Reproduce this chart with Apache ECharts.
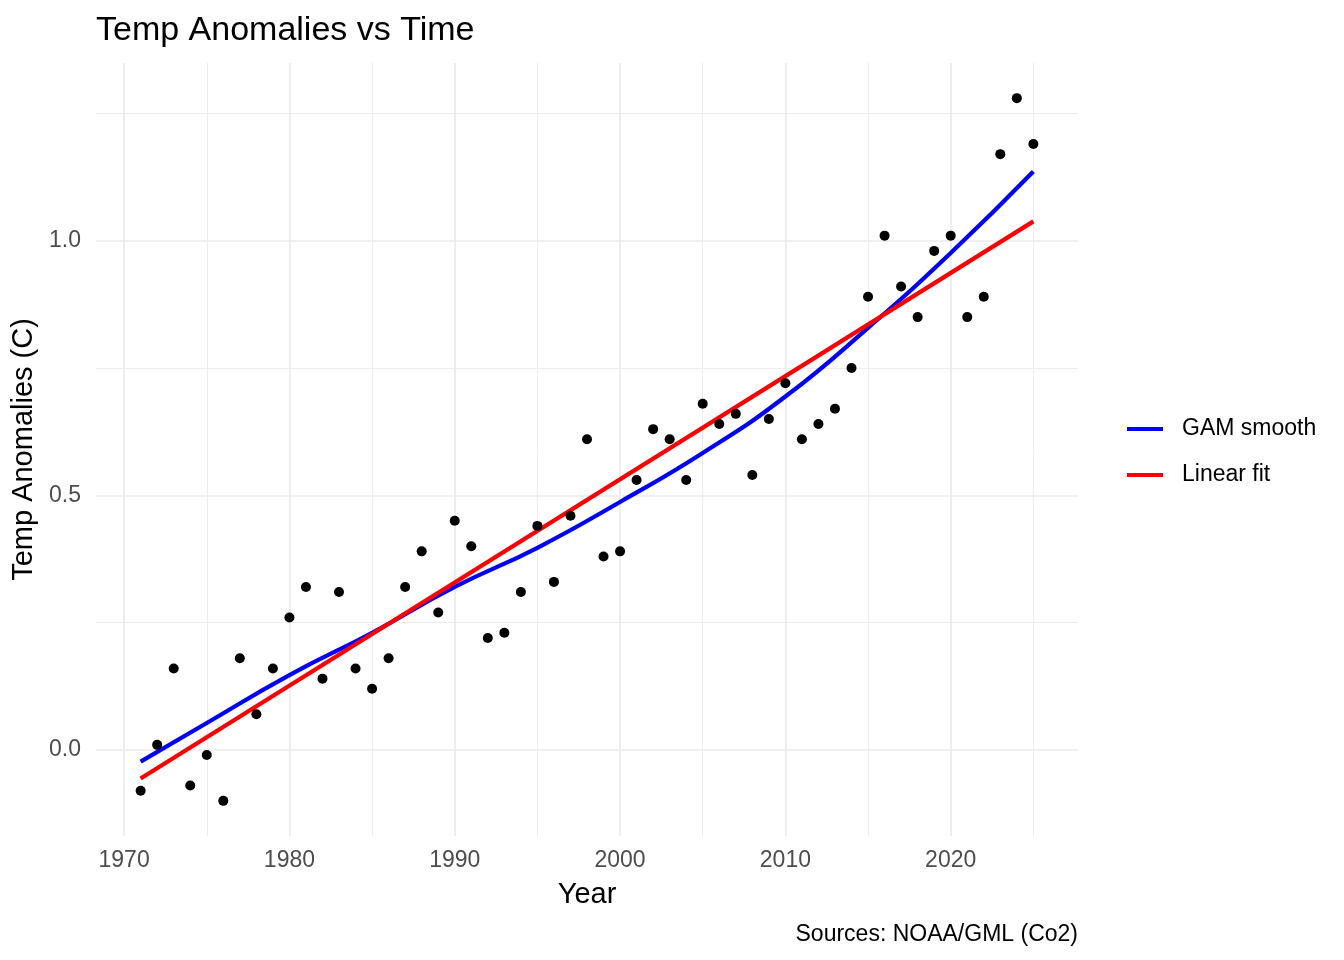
<!DOCTYPE html>
<html>
<head>
<meta charset="utf-8">
<script src="https://cdn.jsdelivr.net/npm/echarts@6/dist/echarts.min.js"></script>
<style>html,body{margin:0;padding:0;background:#fff}#c{width:1344px;height:960px}</style>
</head>
<body>
<div id="c"></div>
<script>
const years = [1971,1972,1973,1974,1975,1976,1977,1978,1979,1980,1981,1982,1983,1984,1985,1986,1987,1988,1989,1990,1991,1992,1993,1994,1995,1996,1997,1998,1999,2000,2001,2002,2003,2004,2005,2006,2007,2008,2009,2010,2011,2012,2013,2014,2015,2016,2017,2018,2019,2020,2021,2022,2023,2024,2025];
const anomalies = [-0.08,0.01,0.16,-0.07,-0.01,-0.10,0.18,0.07,0.16,0.26,0.32,0.14,0.31,0.16,0.12,0.18,0.32,0.39,0.27,0.45,0.40,0.22,0.23,0.31,0.44,0.33,0.46,0.61,0.38,0.39,0.53,0.63,0.61,0.53,0.68,0.64,0.66,0.54,0.65,0.72,0.61,0.64,0.67,0.75,0.89,1.01,0.91,0.85,0.98,1.01,0.85,0.89,1.17,1.28,1.19];
const gamYears = [1971,1975,1980,1985,1990,1995,2000,2005,2010,2015,2020,2025];
const gamValues = [-0.023,0.053,0.147,0.23,0.32,0.397,0.487,0.583,0.694,0.829,0.976,1.136];
const linYears = [1971,2025];
const linValues = [-0.056,1.038];
const xMajorTicks = [1970,1980,1990,2000,2010,2020];
const xMinorTicks = [1975,1985,1995,2005,2015,2025];
const yMajorTicks = [0,0.5,1.0];
const yMinorTicks = [0.25,0.75,1.25];

const FONT = 'Liberation Sans';
const zip = (a,b) => a.map((v,i)=>[v,b[i]]);
const chart = echarts.init(document.getElementById('c'), null, {renderer:'canvas'});
const gridCol = '#EBEBEB';
const xRange = {min:1968.3, max:2027.7};
const yRange = {min:-0.169, max:1.349};
chart.setOption({
  animation:false,
  backgroundColor:'#ffffff',
  textStyle:{fontFamily:FONT},
  title:[
    {text:'Temp Anomalies vs Time', left:96, top:14, padding:0, textStyle:{fontFamily:FONT, fontSize:34, fontWeight:'normal', color:'#000'}},
    {text:'Sources: NOAA/GML (Co2)', right:266, top:923, padding:0, textStyle:{fontFamily:FONT, fontSize:23, fontWeight:'normal', color:'#000'}}
  ],
  legend:{
    data:['GAM smooth','Linear fit'],
    orient:'vertical', left:1127, top:417, padding:0,
    icon:'rect', itemWidth:36, itemHeight:4, itemGap:22,
    textStyle:{fontFamily:FONT, fontSize:23, color:'#000', lineHeight:24, padding:[0,0,0,14]}
  },
  grid:{left:96, right:266, top:63, bottom:124},
  xAxis:[
    {type:'value', ...xRange, name:'Year', nameLocation:'middle', nameGap:44,
     nameTextStyle:{fontFamily:FONT, fontSize:29, color:'#000'},
     axisLine:{show:false}, axisTick:{show:false, customValues:xMajorTicks},
     axisLabel:{customValues:xMajorTicks, fontFamily:FONT, fontSize:23, color:'#4D4D4D', margin:13,
       formatter:v=>String(v)},
     splitLine:{show:true, lineStyle:{color:gridCol, width:1.7}}},
    {type:'value', ...xRange, position:'bottom',
     axisLine:{show:false}, axisTick:{show:false, customValues:xMinorTicks},
     axisLabel:{show:false, customValues:xMinorTicks},
     splitLine:{show:true, lineStyle:{color:gridCol, width:0.9}}}
  ],
  yAxis:[
    {type:'value', ...yRange, name:'Temp Anomalies (C)', nameLocation:'middle', nameGap:43,
     nameTextStyle:{fontFamily:FONT, fontSize:29, color:'#000'},
     axisLine:{show:false}, axisTick:{show:false, customValues:yMajorTicks},
     axisLabel:{customValues:yMajorTicks, fontFamily:FONT, fontSize:23, color:'#4D4D4D', margin:15,
       formatter:v=>v.toFixed(1)},
     splitLine:{show:true, lineStyle:{color:gridCol, width:1.7}}},
    {type:'value', ...yRange, position:'left',
     axisLine:{show:false}, axisTick:{show:false, customValues:yMinorTicks},
     axisLabel:{show:false, customValues:yMinorTicks},
     splitLine:{show:true, lineStyle:{color:gridCol, width:0.9}}}
  ],
  series:[
    {name:'GAM smooth', type:'line', data:zip(gamYears,gamValues), smooth:0.5, symbol:'none',
     color:'#0000FF', lineStyle:{color:'#0000FF', width:4.2}, z:3},
    {name:'Linear fit', type:'line', data:zip(linYears,linValues), symbol:'none',
     color:'#FF0000', lineStyle:{color:'#FF0000', width:4.2}, z:3},
    {name:'Observed', type:'scatter', data:zip(years,anomalies), symbol:'circle', symbolSize:10,
     itemStyle:{color:'#000000', opacity:1}, z:5}
  ]
});
</script>
</body>
</html>
